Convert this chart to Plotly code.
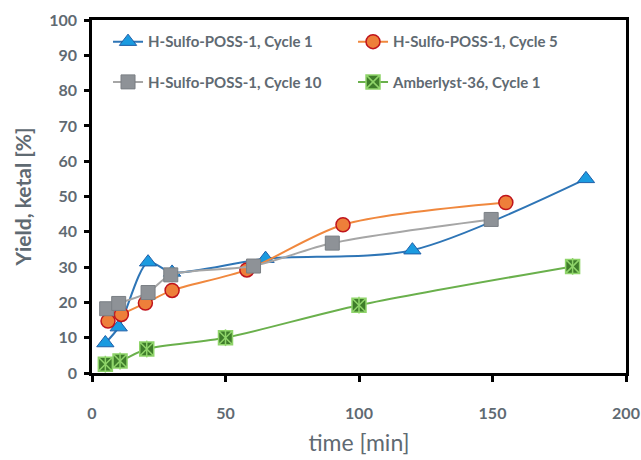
import plotly.graph_objects as go

# Data
t_c1 = [5, 10, 21, 30, 65, 120, 185]
y_c1 = [8.5, 13, 31.4, 28.5, 32.4, 34.8, 55]

t_c5 = [6, 11, 20, 30, 58, 94, 155]
y_c5 = [14.7, 16.6, 19.8, 23.4, 29.2, 42, 48.3]

t_c10 = [5.5, 10, 21, 29.5, 60.5, 90, 149.5]
y_c10 = [18.2, 19.7, 22.8, 27.8, 30.3, 36.8, 43.5]

t_amb = [5, 10.5, 20.5, 50, 100, 180]
y_amb = [2.5, 3.4, 6.8, 10, 19.2, 30.2]

x_ticks = [0, 50, 100, 150, 200]
y_ticks = [0, 10, 20, 30, 40, 50, 60, 70, 80, 90, 100]

names = ["H-Sulfo-POSS-1, Cycle 1", "H-Sulfo-POSS-1, Cycle 5",
         "H-Sulfo-POSS-1, Cycle 10", "Amberlyst-36, Cycle 1"]

GRAY = "#5f6a72"
FONT = "Lato"

fig = go.Figure()
fig.add_trace(go.Scatter(
    x=t_c1, y=y_c1, name=names[0], mode="lines+markers", legend="legend",
    line=dict(color="#2e75b6", width=2, shape="spline", smoothing=0.8),
    marker=dict(symbol="triangle-up", size=15, color="#1b9be0",
                line=dict(color="#1f5fa8", width=1))))
fig.add_trace(go.Scatter(
    x=t_c5, y=y_c5, name=names[1], mode="lines+markers", legend="legend",
    line=dict(color="#f0883e", width=2, shape="spline", smoothing=0.8),
    marker=dict(symbol="circle", size=14, color="#ee7f3a",
                line=dict(color="#c0141c", width=1.5))))
fig.add_trace(go.Scatter(
    x=t_c10, y=y_c10, name=names[2], mode="lines+markers", legend="legend2",
    line=dict(color="#a6a6a6", width=2, shape="spline", smoothing=0.8),
    marker=dict(symbol="square", size=14, color="#8e9297",
                line=dict(color="#7a7f84", width=1))))
fig.add_trace(go.Scatter(
    x=t_amb, y=y_amb, name=names[3], mode="lines+markers", legend="legend2",
    line=dict(color="#6ab04c", width=2, shape="spline", smoothing=0.8),
    marker=dict(symbol="square-x", size=14, color="#3f7d2b",
                line=dict(color="#8fd46a", width=1.5))))
fig.add_trace(go.Scatter(
    x=t_amb, y=y_amb, mode="markers", showlegend=False, hoverinfo="skip",
    marker=dict(symbol="line-ns", size=12, color="#8fd46a",
                line=dict(color="#8fd46a", width=1.5))))

legend_common = dict(
    orientation="h", xanchor="left", yanchor="middle",
    font=dict(family=FONT, size=15, color=GRAY, weight="bold"),
    bgcolor="rgba(0,0,0,0)", itemwidth=30,
    entrywidth=200, entrywidthmode="pixels", traceorder="normal",
)

fig.update_layout(
    width=641, height=460,
    margin=dict(l=92, r=15, t=20, b=87),
    paper_bgcolor="white", plot_bgcolor="white",
    font=dict(family=FONT, color=GRAY),
    legend=dict(x=0.03, y=0.938, **legend_common),
    legend2=dict(x=0.03, y=0.824, **legend_common),
    xaxis=dict(
        range=[0, 200], tickvals=x_ticks, ticktext=[str(v) for v in x_ticks],
        showgrid=False, zeroline=False, automargin=False,
        showline=True, linecolor="black", linewidth=2.5, mirror=True,
        ticks="outside", ticklen=6, tickwidth=2.5, tickcolor="black",
        ticklabelstandoff=18,
        tickfont=dict(family=FONT, size=16, color=GRAY, weight="bold"),
        title=dict(text="time [min]", standoff=14,
                   font=dict(family=FONT, size=23, color=GRAY)),
    ),
    yaxis=dict(
        range=[0, 100], tickvals=y_ticks, ticktext=[str(v) for v in y_ticks],
        showgrid=False, zeroline=False, automargin=False,
        showline=True, linecolor="black", linewidth=2.5, mirror=True,
        ticks="outside", ticklen=5, tickwidth=2.5, tickcolor="black",
        ticklabelstandoff=4,
        tickfont=dict(family=FONT, size=16, color=GRAY, weight="bold"),
        title=dict(text="Yield, ketal [%]", standoff=12,
                   font=dict(family=FONT, size=21, color=GRAY, weight="bold")),
    ),
)

fig.write_html("out.html",
               config={"displayModeBar": False},
               post_script="document.body.style.margin='0';document.body.style.overflow='hidden';")
